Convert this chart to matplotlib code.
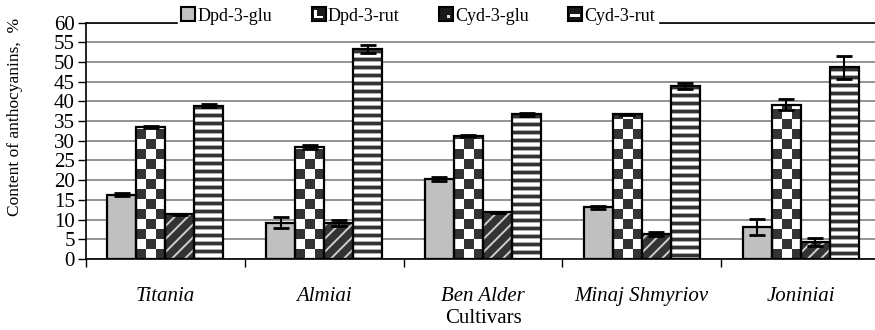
import numpy as np
import matplotlib
matplotlib.use("Agg")
import matplotlib.pyplot as plt
from matplotlib.patches import Rectangle, Patch
from matplotlib.legend_handler import HandlerBase

plt.rcParams['font.family'] = ['Liberation Serif', 'DejaVu Serif']

# data
cultivars = ["Titania", "Almiai", "Ben Alder", "Minaj Shmyriov", "Joniniai"]
series = ["Dpd-3-glu", "Dpd-3-rut", "Cyd-3-glu", "Cyd-3-rut"]
dpd_glu = [16.3, 9.2, 20.2, 13.1, 8.1]
dpd_rut = [33.5, 28.4, 31.2, 36.7, 39.1]
cyd_glu = [11.3, 9.2, 11.8, 6.4, 4.4]
cyd_rut = [38.9, 53.2, 36.7, 43.9, 48.6]
dpd_glu_err = [0.4, 1.4, 0.5, 0.3, 2.0]
dpd_rut_err = [0.3, 0.6, 0.3, 0.2, 1.4]
cyd_glu_err = [0.2, 0.8, 0.2, 0.5, 1.0]
cyd_rut_err = [0.4, 1.0, 0.3, 0.8, 2.9]

values = [dpd_glu, dpd_rut, cyd_glu, cyd_rut]
errors = [dpd_glu_err, dpd_rut_err, cyd_glu_err, cyd_rut_err]
kinds = ["solid", "checker", "diag", "hstripe"]

W, H = 875, 330
fig = plt.figure(figsize=(W / 100, H / 100), dpi=100)
ax = fig.add_axes([86 / W, 1 - 259 / H, 794 / W, 236.5 / H])
ax.set_xlim(-0.5, 4.5)
ax.set_ylim(0, 60)
px_x = 794 / 5.0
px_y = 236.5 / 60.0


def pattern(kind, nx, ny):
    jj, ii = np.meshgrid(np.arange(nx), np.arange(ny))
    yy = ny - 1 - ii  # rows counted from the top of the bar
    if kind == "checker":
        cell = 10.0
        v = ((np.floor(jj / cell) + np.floor(ii / cell)) % 2).astype(float)
    elif kind == "hstripe":
        v = np.clip(0.6 + 1.6 * np.cos(2 * np.pi * (yy + 2) / 8.0), 0, 1)
    else:
        ph = ((jj - ii) % 13) / 13.0
        v = np.clip(1 - np.abs(ph - 0.5) / 0.16, 0, 1)
    return 0.2 + 0.8 * v


width = 0.1827
for k, (vals, errs, kind) in enumerate(zip(values, errors, kinds)):
    xs = np.arange(len(cultivars)) + (k - 1.5) * width
    face = "#c0c0c0" if kind == "solid" else "none"
    bars = ax.bar(xs, vals, width, color=face, edgecolor="black",
                  linewidth=1.6, zorder=3)
    if kind != "solid":
        for r in bars:
            x0, w, h = r.get_x(), r.get_width(), r.get_height()
            nx = int(np.ceil(w * px_x))
            ny = int(np.ceil(h * px_y))
            arr = pattern(kind, nx, ny)
            ax.imshow(arr, extent=[x0, x0 + w, 0, h], origin="lower",
                      cmap="gray", vmin=0, vmax=1, interpolation="nearest",
                      aspect="auto", zorder=2)
    ax.errorbar(xs, vals, yerr=errs, fmt="none", ecolor="black",
                elinewidth=1.5, capsize=5.5, capthick=2, zorder=4)

ax.set_xlim(-0.5, 4.5)
ax.set_ylim(0, 60)

ax.set_yticks(np.arange(0, 61, 5))
ax.yaxis.grid(True, color="#808080", linewidth=1.2)
ax.set_axisbelow(True)
ax.tick_params(axis="y", direction="out", length=6, width=1, labelsize=15, pad=2)

ax.set_xticks(np.arange(len(cultivars)))
ax.set_xticklabels(cultivars, fontsize=15, style="italic")
ax.set_xticks(np.arange(-0.5, 5, 1.0), minor=True)
ax.tick_params(axis="x", which="major", length=0, pad=20)
ax.tick_params(axis="x", which="minor", direction="out", length=6, width=1)

for s in ["left", "bottom", "top"]:
    ax.spines[s].set_linewidth(1.2)
    ax.spines[s].set_color("black")
ax.spines["right"].set_visible(False)

ax.set_xlabel("Cultivars", fontsize=15, labelpad=2)
fig.text(15 / W, 1 - 117 / H, "Content of anthocyanins,  %", rotation=90,
         ha="center", va="center", fontsize=12.5)


class IconHandler(HandlerBase):
    def create_artists(self, legend, orig_handle, xdescent, ydescent,
                       width, height, fontsize, trans):
        kind = orig_handle.get_label()
        x0, y0 = -xdescent, -ydescent
        face = "#c0c0c0" if kind == "solid" else "#1a1a1a"
        arts = [Rectangle((x0, y0), width, height, facecolor=face,
                          edgecolor="black", linewidth=1.5, transform=trans)]
        if kind == "checker":
            arts.append(Rectangle((x0 + 0.2 * width, y0 + 0.2 * height),
                                  0.2 * width, 0.6 * height, facecolor="white",
                                  edgecolor="none", transform=trans))
            arts.append(Rectangle((x0 + 0.2 * width, y0 + 0.2 * height),
                                  0.6 * width, 0.15 * height, facecolor="white",
                                  edgecolor="none", transform=trans))
        elif kind == "diag":
            arts.append(Rectangle((x0 + 0.55 * width, y0 + 0.2 * height),
                                  0.25 * width, 0.25 * height, facecolor="#dddddd",
                                  edgecolor="none", transform=trans))
        elif kind == "hstripe":
            arts.append(Rectangle((x0 + 0.15 * width, y0 + 0.3 * height),
                                  0.7 * width, 0.2 * height, facecolor="white",
                                  edgecolor="none", transform=trans))
        return arts


proxies = [Patch(label=k) for k in kinds]
handler = IconHandler()
leg = fig.legend(proxies, series, loc="center",
                 bbox_to_anchor=(418 / W, 1 - 16 / H), ncol=4, fontsize=13,
                 handlelength=0.78, handleheight=0.78, handletextpad=0.1,
                 columnspacing=2.2, borderpad=0.2, frameon=True,
                 fancybox=False, framealpha=1, facecolor="white",
                 edgecolor="white",
                 handler_map={p: handler for p in proxies})
leg.set_zorder(10)

fig.savefig("out.png", dpi=100)
